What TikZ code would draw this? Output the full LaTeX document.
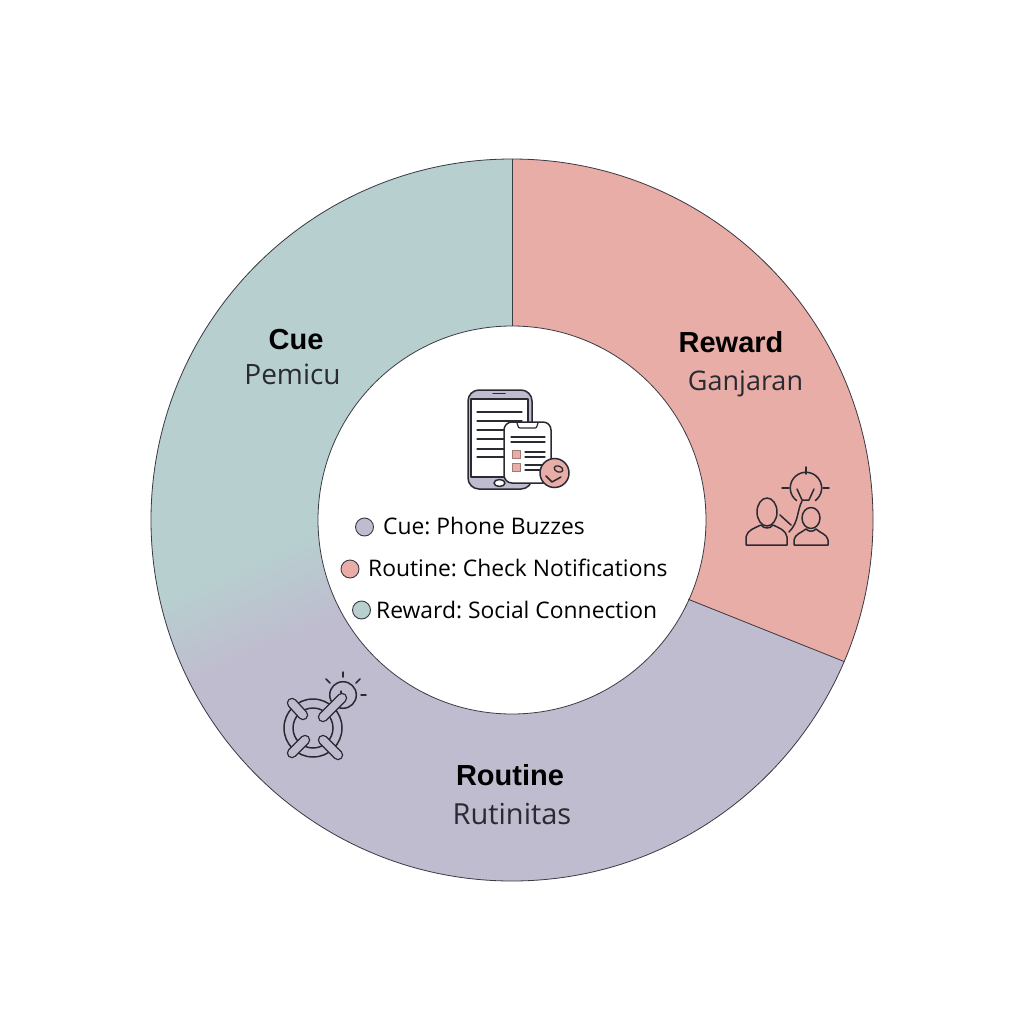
\documentclass[tikz,border=0pt]{standalone}
\usepackage{fontspec}
\usetikzlibrary{calc}
\setmainfont{Liberation Sans}
\newfontfamily\itemfont{Open Sans}
\definecolor{tealc}{HTML}{B7CFCF}
\definecolor{redc}{HTML}{E8ADA6}
\definecolor{lavc}{HTML}{BFBCCF}
\definecolor{inkc}{HTML}{2A2A33}
\definecolor{rimc}{HTML}{3A3A44}
\tikzset{
 rim/.style={draw=rimc,line width=0.8pt},
 ink/.style={draw=inkc,line width=1.5pt,line cap=round,line join=round},
 head/.style={font=\fontsize{29}{30}\selectfont\bfseries,text=black,inner sep=0pt,anchor=base},
 sub/.style={text=inkc,inner sep=0pt,anchor=base},
 item/.style={font=\itemfont\fontsize{22.85}{25}\selectfont,text=black,inner sep=0pt,anchor=base west},
 dot/.style={circle,draw=rimc,line width=0.9pt,minimum size=18pt,inner sep=0pt}
}
\begin{document}
\frenchspacing
\begin{tikzpicture}[x=1pt,y=-1pt]
\useasboundingbox (0,0) rectangle (1024,1024);
\fill[white] (0,0) rectangle (1024,1024);
\coordinate (c) at (512,520);
\coordinate (ri) at (688.3,599.3);
\coordinate (ro) at (844.5,661.7);
% ring fill
\begin{scope}
 \clip (c) circle[radius=361];
 \fill[lavc] (0,0) rectangle (1024,1024);
 \begin{scope}
  \clip (100,100) rectangle (512,1000);
  \begin{scope}[shift={(250,610)},rotate=25]
   \fill[tealc] (-400,-500) rectangle (500,-44.5);
   \foreach \i in {0,...,44}{
    \pgfmathsetmacro\pc{\i/44*100}
    \fill[lavc!\pc!tealc] (-400,{-45+2*\i}) rectangle (500,{-45+2*\i+2.5});
   }
  \end{scope}
 \end{scope}
 \fill[redc] (c) -- ($(c)+(-90:500)$) -- (1024,0) -- (1024,1024) -- ($(ri)!3!(ro)$) -- (ri) -- cycle;
\end{scope}
\fill[white] (c) circle[radius=194];
\draw[rim] (c) circle[radius=361];
\draw[rim] (c) circle[radius=194];
\draw[rim] ($(c)+(-90:194)$) -- ($(c)+(-90:361)$);
\draw[rim] (ri) -- (ro);
% labels
\node[head] (cueh) at (296,349) {Cue};
\node[sub,font=\itemfont\fontsize{28}{30}\selectfont] (cues) at (292.5,384) {Pemicu};
\node[head] (rewh) at (731,352) {Reward};
\node[sub,font=\itemfont\fontsize{27}{30}\selectfont] (rews) at (745.5,390) {Ganjaran};
\node[head] (rouh) at (510,785) {Routine};
\node[sub,font=\itemfont\fontsize{29}{30}\selectfont] (rous) at (512,824.5) {Rutinitas};
% legend
\node[dot,fill=lavc] (d1) at (364.5,527) {};
\node[item] (t1) at (383,534) {Cue: Phone Buzzes};
\node[dot,fill=redc] (d2) at (350,569) {};
\node[item] (t2) at (368,576) {Routine: Check Notifications};
\node[dot,fill=tealc] (d3) at (361.5,610) {};
\node[item] (t3) at (376,618) {Reward: Social Connection};
% phone icon
\draw[ink,fill=lavc] (468,401) arc[start angle=180,end angle=270,radius=11] -- (521,390) arc[start angle=270,end angle=360,radius=11] -- (532,478) arc[start angle=0,end angle=90,radius=11] -- (479,489) arc[start angle=90,end angle=180,radius=11] -- cycle;
\draw[ink,fill=white,line width=1.1pt] (471,399) rectangle (528,477);
\draw[ink] (493,393.5) -- (505,393.5);
\draw[ink,fill=white] (499.5,483) ellipse[x radius=5.5,y radius=3.5];
\foreach \yy in {412,421,430,439,449,457}{\draw[ink,line width=1.1pt] (477,\yy) -- (522,\yy);}
\draw[ink,fill=white] (504,430) arc[start angle=180,end angle=270,radius=8] -- (543,422) arc[start angle=270,end angle=360,radius=8] -- (551,475) arc[start angle=0,end angle=90,radius=8] -- (512,483) arc[start angle=90,end angle=180,radius=8] -- cycle;
\draw[ink,line width=1.2pt] (517,423) -- (518,426) arc[start angle=180,end angle=90,radius=2] -- (535,428) arc[start angle=90,end angle=0,radius=2] -- (538,423);
\draw[ink,line width=1.1pt] (511,437) -- (545,437);
\draw[ink,line width=1.1pt] (511,442) -- (545,442);
\draw[draw=redc!70!black,line width=0.6pt,fill=redc] (512,450) rectangle (520,458);
\draw[draw=redc!70!black,line width=0.6pt,fill=redc] (512,463.5) rectangle (520,471.5);
\draw[ink,line width=1.1pt] (525,452) -- (545,452);
\draw[ink,line width=1.1pt] (525,457) -- (545,457);
\draw[ink,line width=1.1pt] (525,465) -- (545,465);
\draw[ink,line width=1.1pt] (525,470) -- (545,470);
\draw[ink,fill=redc] (554.5,473) circle[radius=14.5];
\draw[ink] (546,476) -- (552,482) -- (561,477);
\draw[ink,line width=1.3pt,rotate around={-20:(558.5,469)}] (558.5,469) ellipse[x radius=4.5,y radius=3];
% people icon
\draw[ink] (767,512) ellipse[x radius=10,y radius=14];
\draw[ink] (746,545) -- (746,537) .. controls (747,530) and (755,528) .. (761,525) .. controls (764,529) and (770,529) .. (773,525) .. controls (779,528) and (786,530) .. (787,537) -- (787,545) -- cycle;
\draw[ink] (811,518) ellipse[x radius=9,y radius=10.5];
\draw[ink] (794,545) -- (794,540) .. controls (795,534) and (801,533) .. (806,529) .. controls (809,532) and (813,532) .. (816,529) .. controls (820,533) and (827,534) .. (828,540) -- (828,545) -- cycle;
\draw[ink] (796.5,500.5) arc[start angle=127,end angle=413,radius=15.7];
\draw[ink] (806,467) -- (806,474);
\draw[ink] (782,488) -- (789,488);
\draw[ink] (823,488) -- (829,488);
\draw[ink] (797,489) -- (802,500) -- (809,500) -- (814,489);
\draw[ink] (802,501) .. controls (797,510) and (799,522) .. (789,532);
\draw[ink] (780,515) -- (791,525);
% chain icon
\draw[ink] (343,695) circle[radius=13.3];
\draw[ink] (313,728) circle[radius=29];
\draw[ink] (313,728) circle[radius=20];
\foreach \xa/\ya/\xb/\yb in {292/703/303/715,342/698/323/717,305/740/292/753,323/740/338/755}{
 \draw[inkc,line width=10.5pt,line cap=round] (\xa,\ya) -- (\xb,\yb);
 \draw[lavc,line width=7.7pt,line cap=round] (\xa,\ya) -- (\xb,\yb);
}
\draw[ink,line width=1.2pt] (341,691) -- (341,693);
\draw[ink] (343,672) -- (343,677);
\draw[ink] (326,679) -- (330,683);
\draw[ink] (356,683) -- (360,679);
\draw[ink] (361,695) -- (366,695);
\end{tikzpicture}
\end{document}
